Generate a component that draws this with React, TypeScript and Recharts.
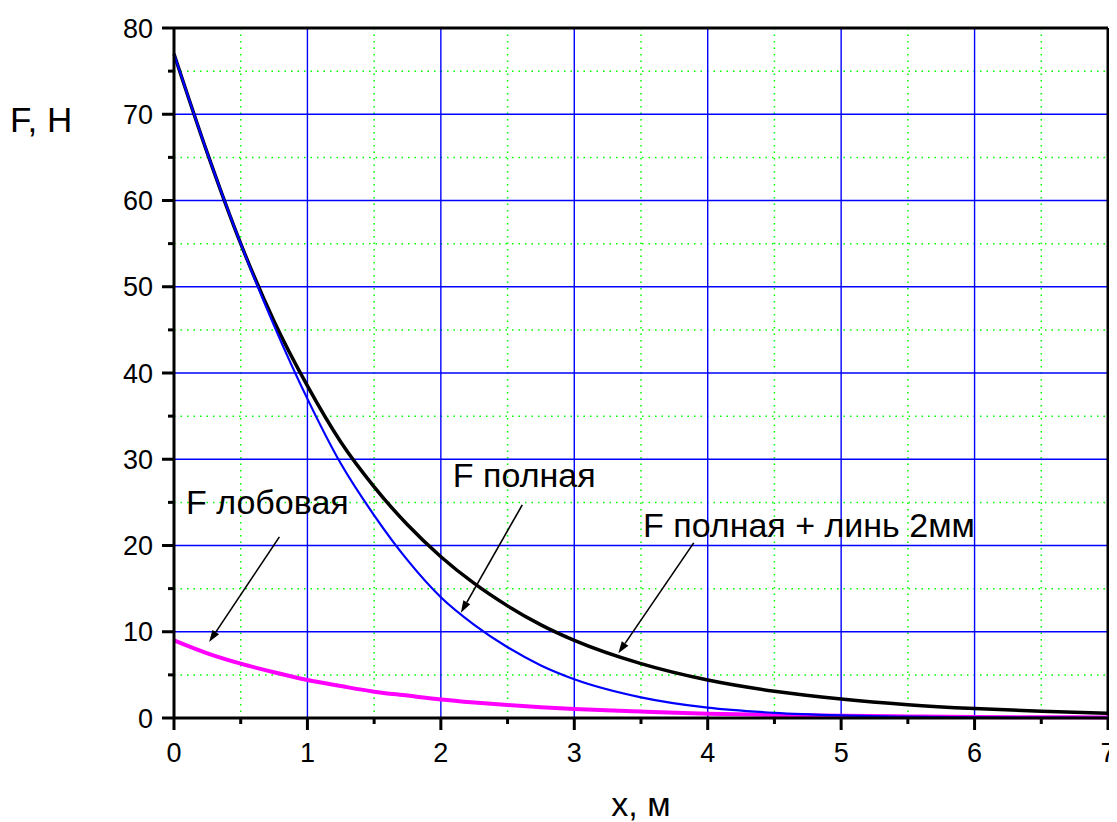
import React from 'react'
import {
  LineChart,
  Line,
  XAxis,
  YAxis,
  CartesianGrid,
  ReferenceLine,
  ReferenceDot
} from 'recharts'

const FONT = 'Arial, "Liberation Sans", sans-serif'

// x, m
const xValues = [
  0, 0.25, 0.5, 0.75, 1, 1.25, 1.5, 1.75, 2, 2.25, 2.5, 2.75, 3,
  3.5, 4, 4.5, 5, 5.5, 6, 6.5, 7
]
// F полная (blue)
const fullForce = [
  77, 65.5, 55, 45.5, 37, 29.5, 23.5, 18.3, 14, 10.8, 8.2, 6.1, 4.5,
  2.4, 1.2, 0.6, 0.3, 0.15, 0.08, 0.04, 0.02
]
// F полная + линь 2мм (black)
const fullForceLine = [
  77, 65.5, 55, 46, 38.5, 32, 26.8, 22.4, 18.7, 15.6, 13, 10.8, 9,
  6.3, 4.4, 3.1, 2.2, 1.55, 1.1, 0.78, 0.55
]
// F лобовая (magenta)
const frontalForce = [
  9, 7.5, 6.3, 5.3, 4.4, 3.7, 3.05, 2.6, 2.15, 1.8, 1.5, 1.25, 1.05,
  0.75, 0.5, 0.36, 0.25, 0.18, 0.12, 0.09, 0.06
]

const xMajorTicks = [0, 1, 2, 3, 4, 5, 6, 7]
const xMinorTicks = [0.5, 1.5, 2.5, 3.5, 4.5, 5.5, 6.5]
const yMajorTicks = [0, 10, 20, 30, 40, 50, 60, 70, 80]
const yMinorTicks = [5, 15, 25, 35, 45, 55, 65, 75]

const labelTexts = ['F лобовая', 'F полная', 'F полная + линь 2мм']
const labelAnchors = [
  { x: 0.09, y: 23.6 },
  { x: 2.09, y: 26.8 },
  { x: 3.515, y: 20.95 }
]
const arrowSegments = [
  [{ x: 0.79, y: 21.0 }, { x: 0.263, y: 8.8 }],
  [{ x: 2.61, y: 24.7 }, { x: 2.15, y: 12.2 }],
  [{ x: 3.895, y: 20.3 }, { x: 3.33, y: 7.5 }]
]

const data = xValues.map((x, i) => ({
  x,
  full: fullForce[i],
  fullLine: fullForceLine[i],
  frontal: frontalForce[i]
}))

const allXTicks = [...xMajorTicks, ...xMinorTicks].sort((a, b) => a - b)
const allYTicks = [...yMajorTicks, ...yMinorTicks].sort((a, b) => a - b)

// grid positions come from the axis scale when available
const xGrid = (ticks: number[]) => (props: any) => {
  const s = props?.xAxis?.scale
  if (typeof s === 'function') return ticks.map((v) => s(v))
  const o = props.offset
  return ticks.map((v) => o.left + (o.width * v) / 7)
}
const yGrid = (ticks: number[]) => (props: any) => {
  const s = props?.yAxis?.scale
  if (typeof s === 'function') return ticks.map((v) => s(v))
  const o = props.offset
  return ticks.map((v) => o.top + o.height * (1 - v / 80))
}

const XTick = (props: any) => {
  const { x, y, payload } = props
  const major = xMajorTicks.includes(payload.value)
  return (
    <g>
      <line x1={x} x2={x} y1={y} y2={y + (major ? 12 : 6)} stroke="#000" strokeWidth={3} />
      {major && (
        <text x={x} y={y + 25} dy="0.71em" textAnchor="middle" fontSize={27} fontFamily={FONT} fill="#000">
          {payload.value}
        </text>
      )}
    </g>
  )
}

const YTick = (props: any) => {
  const { x, y, payload } = props
  const major = yMajorTicks.includes(payload.value)
  return (
    <g>
      <line x1={x - (major ? 12 : 6)} x2={x} y1={y} y2={y} stroke="#000" strokeWidth={3} />
      {major && (
        <text x={x - 21} y={y} dy="0.355em" textAnchor="end" fontSize={27} fontFamily={FONT} fill="#000">
          {payload.value}
        </text>
      )}
    </g>
  )
}

const Arrow = (p: any) => {
  const { x1, y1, x2, y2 } = p
  const dx = x2 - x1
  const dy = y2 - y1
  const len = Math.sqrt(dx * dx + dy * dy) || 1
  const ux = dx / len
  const uy = dy / len
  const headLen = 12
  const headW = 4
  const bx = x2 - ux * headLen
  const by = y2 - uy * headLen
  return (
    <g>
      <line x1={x1} y1={y1} x2={bx} y2={by} stroke="#000" strokeWidth={1.6} />
      <polygon
        points={`${x2},${y2} ${bx - uy * headW},${by + ux * headW} ${bx + uy * headW},${by - ux * headW}`}
        fill="#000"
      />
    </g>
  )
}

export default function App() {
  return (
    <LineChart
      width={1109}
      height={814}
      data={data}
      margin={{ top: 20, right: 9, bottom: 0, left: 0 }}
    >
      <CartesianGrid
        stroke="#00ff00"
        strokeWidth={1.5}
        strokeDasharray="1.5 5"
        verticalCoordinatesGenerator={xGrid(xMinorTicks)}
        horizontalCoordinatesGenerator={yGrid(yMinorTicks)}
      />
      <CartesianGrid
        stroke="#0000ff"
        strokeWidth={1.4}
        verticalCoordinatesGenerator={xGrid(xMajorTicks)}
        horizontalCoordinatesGenerator={yGrid(yMajorTicks)}
      />

      <XAxis
        type="number"
        dataKey="x"
        domain={[0, 7]}
        ticks={allXTicks}
        interval={0}
        height={104}
        tickSize={0}
        tickMargin={0}
        tickLine={false}
        axisLine={{ stroke: '#000', strokeWidth: 3 }}
        tick={XTick}
        label={(props: any) => {
          const vb = props.viewBox
          return (
            <text x={vb.x + vb.width / 2} y={vb.y + 98} textAnchor="middle" fontSize={34} fontFamily={FONT} fill="#000">
              x, м
            </text>
          )
        }}
      />
      <YAxis
        type="number"
        domain={[0, 80]}
        ticks={allYTicks}
        interval={0}
        width={166}
        tickSize={0}
        tickMargin={0}
        tickLine={false}
        axisLine={{ stroke: '#000', strokeWidth: 3 }}
        tick={YTick}
        label={(props: any) => {
          const vb = props.viewBox
          return (
            <text x={vb.x + 2} y={vb.y + 104} textAnchor="start" fontSize={35} fontFamily={FONT} fill="#000">
              F, Н
            </text>
          )
        }}
      />

      <ReferenceLine y={80} stroke="#000" strokeWidth={3} />
      <ReferenceLine x={7} stroke="#000" strokeWidth={3} />

      <Line dataKey="fullLine" type="monotone" stroke="#000000" strokeWidth={3.5} dot={false} isAnimationActive={false} />
      <Line dataKey="frontal" type="monotone" stroke="#ff00ff" strokeWidth={4} dot={false} isAnimationActive={false} />
      <Line dataKey="full" type="monotone" stroke="#0000ff" strokeWidth={2.2} dot={false} isAnimationActive={false} />

      {arrowSegments.map((seg, i) => (
        <ReferenceLine key={`arrow-${i}`} segment={seg} shape={Arrow} />
      ))}
      {labelTexts.map((t, i) => (
        <ReferenceDot
          key={`label-${i}`}
          x={labelAnchors[i].x}
          y={labelAnchors[i].y}
          r={0}
          shape={(p: any) => (
            <text x={p.cx} y={p.cy} fontSize={34} fontFamily={FONT} fill="#000">
              {t}
            </text>
          )}
        />
      ))}
    </LineChart>
  )
}
